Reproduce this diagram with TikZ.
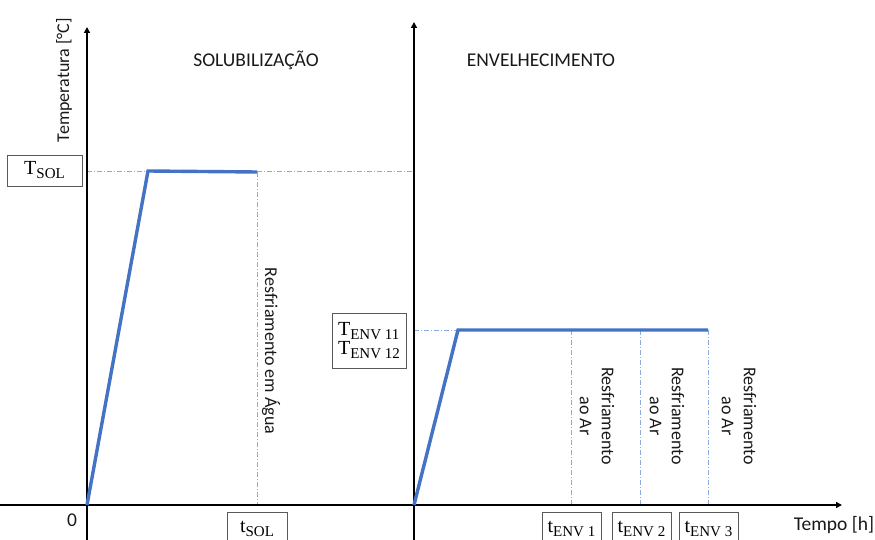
\documentclass[tikz,border=0pt]{standalone}
\usepackage{fontspec}
\setmainfont{Carlito}
\newfontfamily\labelfont{Liberation Serif}
\usetikzlibrary{arrows.meta}
\definecolor{curveblue}{HTML}{4472C4}
\definecolor{guideblue}{HTML}{8FAADC}
\newcommand{\sub}[1]{{\fontsize{15}{15}\selectfont\raisebox{-4pt}{#1}}}
\tikzset{
  axis/.style={line width=1.8pt, black},
  axisarrow/.style={axis, -{Triangle[length=6pt, width=6pt]}},
  curve/.style={line width=3.4pt, curveblue, line join=miter},
  guide/.style={line width=0.7pt, guideblue, dash pattern=on 5pt off 2pt on 1pt off 2pt},
  valbox/.style={draw=black!65, line width=0.7pt, fill=white, inner sep=0pt, font=\labelfont\fontsize{20}{22}\selectfont},
  caption/.style={font=\fontsize{19.5}{23}\selectfont, text=black!90},
  vcaption/.style={font=\fontsize{18}{22}\selectfont, text=black!90, rotate=-90, align=center, inner sep=0pt}
}
\begin{document}
\begin{tikzpicture}[x=1pt, y=-1pt]
\useasboundingbox (0,0) rectangle (875,540);

% key points of the temperature profile
\coordinate (o1) at (87,505);
\coordinate (s1) at (148,171);
\coordinate (s2) at (257,172);
\coordinate (o2) at (414,505);
\coordinate (e1) at (458,330);
\coordinate (e2) at (708,330);
\coordinate (c1) at (571,330);
\coordinate (c2) at (640,330);
\coordinate (b0) at (257,505);
\coordinate (b1) at (571,505);
\coordinate (b2) at (640,505);
\coordinate (b3) at (708,505);
\coordinate (hsolL) at (87,171);
\coordinate (hsolR) at (414,171);
\coordinate (henvL) at (414,330);

% axes
\coordinate (xstart) at (0,505);
\coordinate (xend) at (842,505);
\coordinate (y1low) at (87,540);
\coordinate (y1top) at (87,27);
\coordinate (y2low) at (414,540);
\coordinate (y2top) at (414,22);

% guide lines
\draw[guide] (hsolL) -- (hsolR);
\draw[guide] (henvL) -- (e1);
\draw[guide] (s2) -- (b0);
\draw[guide] (c1) -- (b1);
\draw[guide] (c2) -- (b2);
\draw[guide] (e2) -- (b3);

\draw[axisarrow] (xstart) -- (xend);
\draw[axisarrow] (y1low) -- (y1top);
\draw[axisarrow] (y2low) -- (y2top);

% temperature profile
\draw[curve] (o1) -- (s1) -- (s2);
\draw[curve] (o2) -- (e1) -- (e2);

% axis labels
\node[caption, font=\fontsize{18}{21}\selectfont, rotate=90] (ylab) at (64,80) {Temperatura [°C]};
\node[caption] (xlab) at (834,525) {Tempo [h]};
\node[caption] (zero) at (72,520) {0};

% stage titles
\node[caption] (sol) at (256,60) {SOLUBILIZAÇÃO};
\node[caption] (env) at (541,60) {ENVELHECIMENTO};

% cooling notes
\node[vcaption] (agua) at (271,351) {Resfriamento em Água};
\node[vcaption] (ar1) at (597,416) {Resfriamento\\ao Ar};
\node[vcaption] (ar2) at (667,416) {Resfriamento\\ao Ar};
\node[vcaption] (ar3) at (739,416) {Resfriamento\\ao Ar};

% value boxes
\node[valbox, minimum width=75pt, minimum height=31pt] (tsol) at (44.5,170.5) {T\sub{SOL}};
\node[valbox, minimum width=74pt, minimum height=55pt, align=left] (tenv) at (369,340.5)
  {T\sub{ENV 11}\\[-3pt]T\sub{ENV 12}};
\node[valbox, minimum width=60pt, minimum height=34pt, anchor=north] (tsolt) at (257,512) {\raisebox{-6pt}{t\sub{SOL}}};
\node[valbox, minimum width=59pt, minimum height=34pt, anchor=north] (tenv1) at (571.5,512) {\raisebox{-6pt}{t\sub{ENV 1}}};
\node[valbox, minimum width=59pt, minimum height=34pt, anchor=north] (tenv2) at (641.5,512) {\raisebox{-6pt}{t\sub{ENV 2}}};
\node[valbox, minimum width=59pt, minimum height=34pt, anchor=north] (tenv3) at (708.5,512) {\raisebox{-6pt}{t\sub{ENV 3}}};
\end{tikzpicture}
\end{document}
